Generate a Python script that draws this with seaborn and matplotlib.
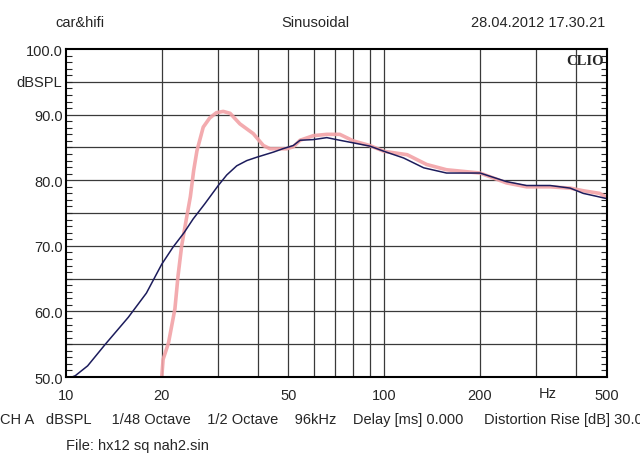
import pandas as pd
import seaborn as sns
import matplotlib.pyplot as plt
from matplotlib.ticker import FixedLocator, NullFormatter, MultipleLocator

# frequency response readings (Hz, dBSPL)
blue_hz = [10.45, 10.7, 11.7, 13.3, 15.7, 17.9, 20.0, 21.7, 23.5, 25.1, 27.3, 30.1, 32.0, 34.4,
           37.0, 39.7, 44.9, 48.0, 51.8, 54.4, 59.9, 66.0, 72.5, 80.0, 90.2, 100, 115, 133,
           157, 200, 242, 280, 332, 384, 422, 460, 500]
blue_db = [50.0, 50.2, 51.7, 55.0, 59.1, 62.8, 67.2, 69.8, 72.0, 74.1, 76.4, 79.2, 80.8, 82.2,
           83.0, 83.5, 84.3, 84.8, 85.3, 86.1, 86.2, 86.5, 86.1, 85.7, 85.2, 84.4, 83.4, 81.9,
           81.1, 81.1, 79.8, 79.2, 79.2, 78.8, 78.0, 77.6, 77.2]

pink_hz = [19.98, 20.2, 21.0, 22.0, 22.5, 23.1, 23.9, 24.6, 25.2, 25.8, 27.0, 28.3, 29.7, 31.2,
           32.8, 35.2, 38.8, 41.7, 43.8, 49.4, 51.8, 54.4, 59.9, 66.0, 72.5, 80.0, 90.0, 100,
           118, 136, 157, 200, 242, 280, 332, 384, 422, 475, 500]
pink_db = [49.7, 52.7, 55.2, 60.4, 65.4, 70.0, 74.1, 77.5, 81.5, 84.5, 88.1, 89.5, 90.3, 90.5,
           90.2, 88.6, 87.1, 85.3, 84.8, 84.8, 85.1, 86.1, 86.8, 87.0, 87.0, 86.0, 85.3, 84.4,
           83.9, 82.4, 81.6, 81.1, 79.6, 79.0, 79.0, 78.8, 78.4, 78.0, 77.4]

x_ticks = [10, 20, 50, 100, 200, 500]
x_grid = [20, 30, 40, 50, 60, 70, 80, 90, 100, 200, 300, 400]
y_ticks = [50, 60, 70, 80, 90, 100]

sns.set_style("white")
plt.rcParams['font.family'] = ['Liberation Sans', 'DejaVu Sans']
fs = 10.5

df = pd.concat([
    pd.DataFrame({"Hz": pink_hz, "dB": pink_db, "curve": "pink"}),
    pd.DataFrame({"Hz": blue_hz, "dB": blue_db, "curve": "blue"}),
])

fig = plt.figure(figsize=(6.4, 4.77), dpi=100)
ax = fig.add_axes([0.103, 0.2075, 0.845, 0.6875])

sns.lineplot(data=df[df.curve == "pink"], x="Hz", y="dB", color="#f2a2a6", lw=2.6,
             alpha=0.9, ax=ax, sort=False, estimator=None)
sns.lineplot(data=df[df.curve == "blue"], x="Hz", y="dB", color="#1c1c5c", lw=1.1,
             ax=ax, sort=False, estimator=None)

ax.set_xscale("log")
ax.set_xlim(10, 500)
ax.set_ylim(50, 100)
ax.xaxis.set_major_locator(FixedLocator(x_ticks))
ax.xaxis.set_major_formatter(plt.FixedFormatter([str(v) for v in x_ticks]))
ax.xaxis.set_minor_locator(FixedLocator([]))
ax.xaxis.set_minor_formatter(NullFormatter())
ax.set_yticks(y_ticks)
ax.set_yticklabels([f"{v:.1f}" for v in y_ticks])
ax.yaxis.set_minor_locator(MultipleLocator(1))
for f in x_grid:
    ax.axvline(f, color="#3a3a3a", lw=0.9, zorder=0)
for v in range(55, 100, 5):
    ax.axhline(v, color="#3a3a3a", lw=0.9, zorder=0)

ax.tick_params(axis="x", which="both", length=0, pad=8, labelsize=fs)
ax.tick_params(axis="y", which="major", length=0, pad=2, labelsize=fs)
ax.tick_params(axis="y", which="minor", direction="in", length=4, width=0.8,
               left=True, right=True)
for s in ax.spines.values():
    s.set_color("black")
    s.set_linewidth(1.5)
ax.set_xlabel("")
ax.set_ylabel("")
if ax.get_legend():
    ax.get_legend().remove()

fig.text(0.086, 0.952, "car&hifi", fontsize=fs, ha="left", va="center")
fig.text(0.493, 0.952, "Sinusoidal", fontsize=fs, ha="center", va="center")
fig.text(0.945, 0.952, "28.04.2012 17.30.21", fontsize=fs, ha="right", va="center")
fig.text(0.062, 0.826, "dBSPL", fontsize=fs, ha="center", va="center")
ax.text(0.995, 0.985, "CLIO", transform=ax.transAxes, fontsize=10.5, fontweight="bold",
        family="Liberation Serif", ha="right", va="top")
fig.text(0.856, 0.175, "Hz", fontsize=fs, ha="center", va="center")
fig.text(0.0, 0.12, "CH A   dBSPL     1/48 Octave    1/2 Octave    96kHz    Delay [ms] 0.000     Distortion Rise [dB] 30.00",
         fontsize=fs, ha="left", va="center")
fig.text(0.103, 0.065, "File: hx12 sq nah2.sin", fontsize=fs, ha="left", va="center")

fig.savefig("out.png", dpi=100)
